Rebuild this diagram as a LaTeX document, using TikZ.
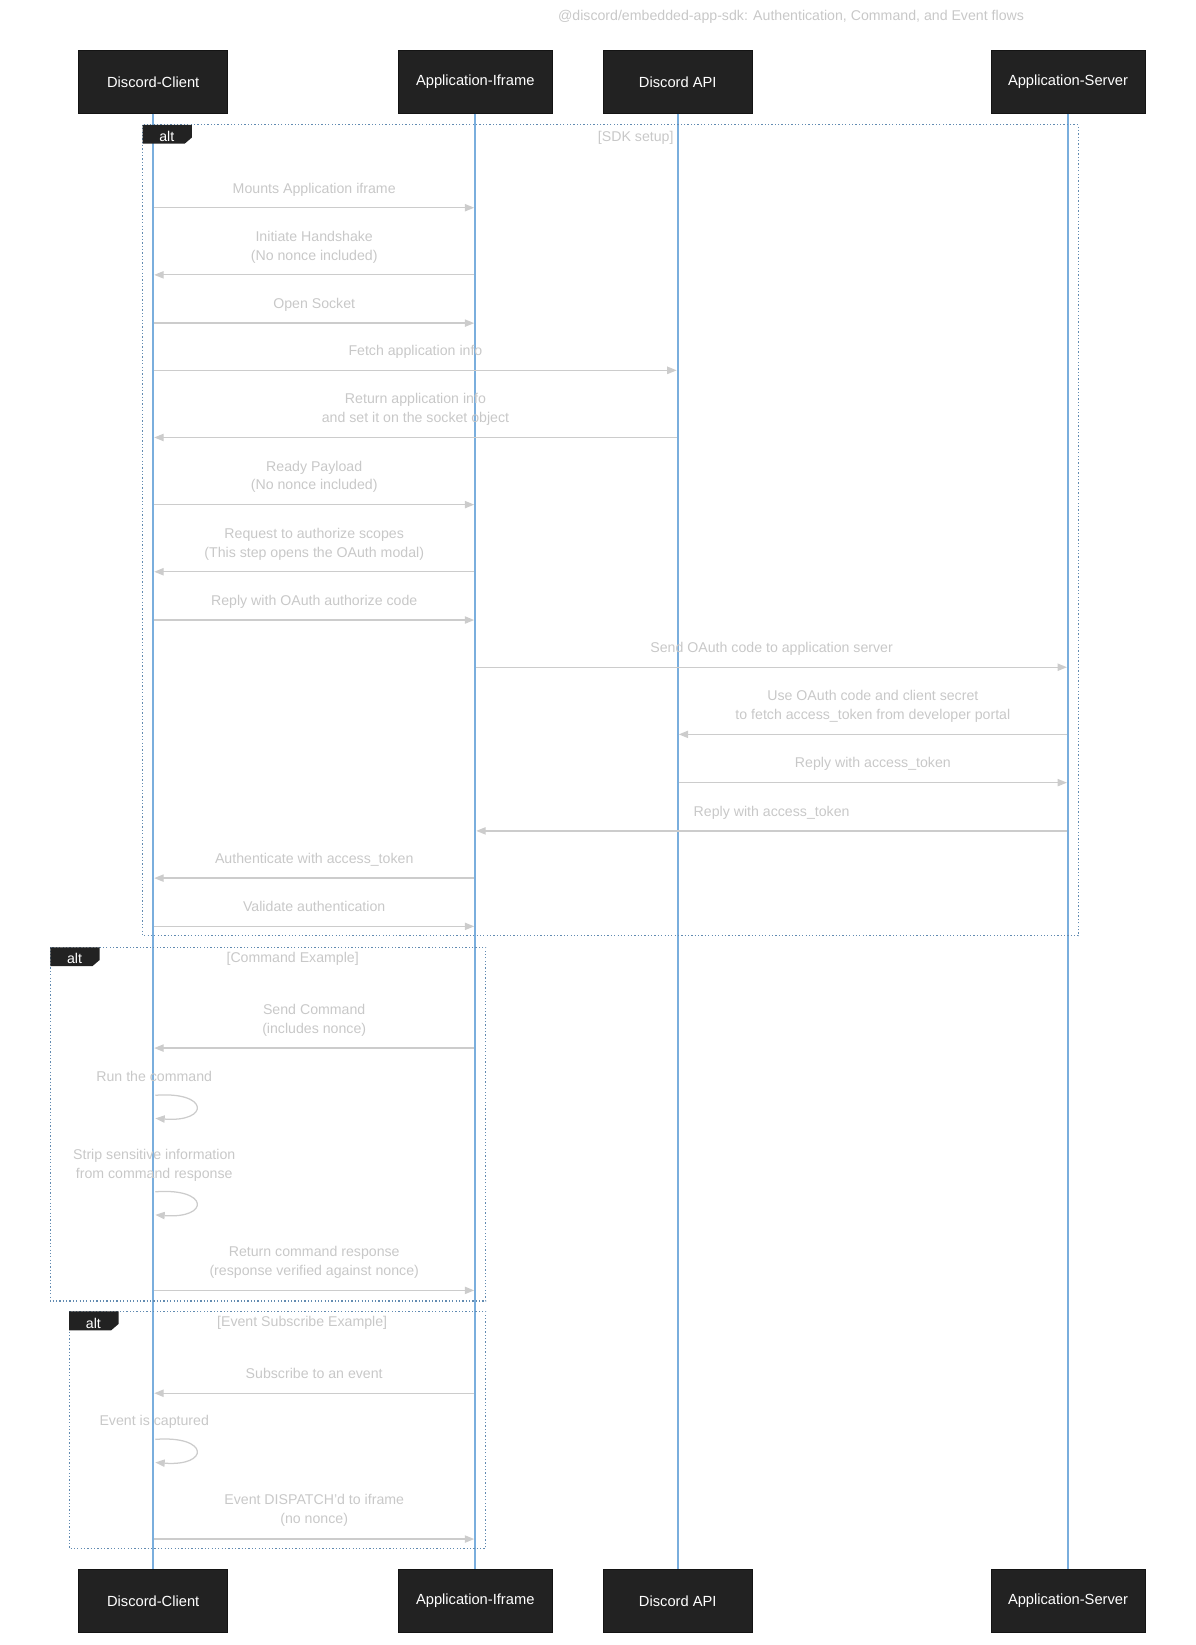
\documentclass[tikz,border=0pt]{standalone}
\usepackage{fontspec}
\setmainfont{Liberation Sans}
\usetikzlibrary{arrows.meta}
\definecolor{life}{HTML}{7AAEDD}
\definecolor{txt}{HTML}{C8C8C8}
\definecolor{arr}{HTML}{CCCCCC}
\definecolor{boxc}{HTML}{222222}
\tikzset{
  actor/.style={draw=boxc!60!black,fill=boxc,text=white,minimum height=60pt,inner sep=0pt,font=\fontsize{14}{16}\selectfont},
  lbl/.style={text=txt,font=\fontsize{13.5}{18}\selectfont,align=center,inner sep=0pt},
  msgline/.style={draw=arr,line width=1.2pt,-{Triangle[length=9pt,width=7pt]}},
  frame/.style={draw=life!80!black,dotted,line width=1.2pt},
  altbox/.style={fill=boxc},
}
\newcommand{\msgA}[6]{% name, x1, x2, y, ylabel, text
  \coordinate (#1s) at (#2,#4); \coordinate (#1e) at (#3,#4);
  \draw[msgline] (#1s) -- (#1e);
  \node[lbl,anchor=north] (#1l) at ({(#2+#3)/2},#5) {#6};}
\newcommand{\selfloop}[4]{% name, y1, ylabel, text
  \coordinate (#1s) at (148,#2); \coordinate (#1e) at (148,#2+22);
  \draw[msgline] (#1s) .. controls (200,#2-4) and (200,#2+26) .. (#1e);
  \node[lbl,anchor=north] (#1l) at (147,#3) {#4};}
\begin{document}
\begin{tikzpicture}[x=1pt,y=-1pt]
\useasboundingbox (0,0) rectangle (1140,1568);
\node[lbl,anchor=north] (title) at (754,10) {@discord/embedded-app-sdk: Authentication, Command, and Event flows};
% lifelines
\foreach \n/\x/\w/\t in {dc/146/142/Discord-Client,ai/453/146/Application-Iframe,da/646/142/Discord API,as/1018/147/Application-Server}{
  \node[actor,minimum width=\w pt] (\n top) at (\x,78) {\t};
  \node[actor,minimum width=\w pt] (\n bot) at (\x,1526) {\t};
  \draw[life,line width=1.5pt] (\n top.south) -- (\n bot.north);
}
% frames
\draw[frame] (136,119) rectangle (1028,892);
\fill[altbox] (136,119)--(183,119)--(183,131)--(176,137)--(136,137)--cycle;
\node[text=white,font=\fontsize{13.5}{16}\selectfont] (alt1) at (159,130) {alt};
\node[lbl] (g1) at (606,131) {[SDK setup]};
\draw[frame] (48,903) rectangle (463,1240);
\fill[altbox] (48,903)--(95,903)--(95,915)--(88,921)--(48,921)--cycle;
\node[text=white,font=\fontsize{13.5}{16}\selectfont] (alt2) at (71,914) {alt};
\node[lbl] (g2) at (279,914) {[Command Example]};
\draw[frame] (66,1250) rectangle (463,1476);
\fill[altbox] (66,1250)--(113,1250)--(113,1262)--(106,1268)--(66,1268)--cycle;
\node[text=white,font=\fontsize{13.5}{16}\selectfont] (alt3) at (89,1261) {alt};
\node[lbl] (g3) at (288,1261) {[Event Subscribe Example]};
% messages
\msgA{m1}{147}{452}{198}{174}{Mounts Application iframe}
\msgA{m2}{452}{147}{262}{220}{Initiate Handshake\\(No nonce included)}
\msgA{m3}{147}{452}{308}{284}{Open Socket}
\msgA{m4}{147}{645}{353}{329}{Fetch application info}
\msgA{m5}{645}{147}{417}{375}{Return application info\\and set it on the socket object}
\msgA{m6}{147}{452}{481}{439}{Ready Payload\\(No nonce included)}
\msgA{m7}{452}{147}{545}{503}{Request to authorize scopes\\(This step opens the OAuth modal)}
\msgA{m8}{147}{452}{591}{567}{Reply with OAuth authorize code}
\msgA{m9}{454}{1017}{636}{612}{Send OAuth code to application server}
\msgA{m10}{1017}{647}{700}{658}{Use OAuth code and client secret\\to fetch access\_token from developer portal}
\msgA{m11}{647}{1017}{746}{722}{Reply with access\_token}
\msgA{m12}{1017}{454}{792}{768}{Reply with access\_token}
\msgA{m13}{452}{147}{837}{813}{Authenticate with access\_token}
\msgA{m14}{147}{452}{883}{859}{Validate authentication}
\msgA{m15}{452}{147}{999}{957}{Send Command\\(includes nonce)}
\selfloop{m16}{1044}{1021}{Run the command}
\selfloop{m17}{1136}{1095}{Strip sensitive information\\from command response}
\msgA{m18}{147}{452}{1230}{1188}{Return command response\\(response verified against nonce)}
\msgA{m19}{452}{147}{1328}{1304}{Subscribe to an event}
\selfloop{m20}{1372}{1349}{Event is captured}
\msgA{m21}{147}{452}{1467}{1424}{Event DISPATCH'd to iframe\\(no nonce)}
\end{tikzpicture}
\end{document}
